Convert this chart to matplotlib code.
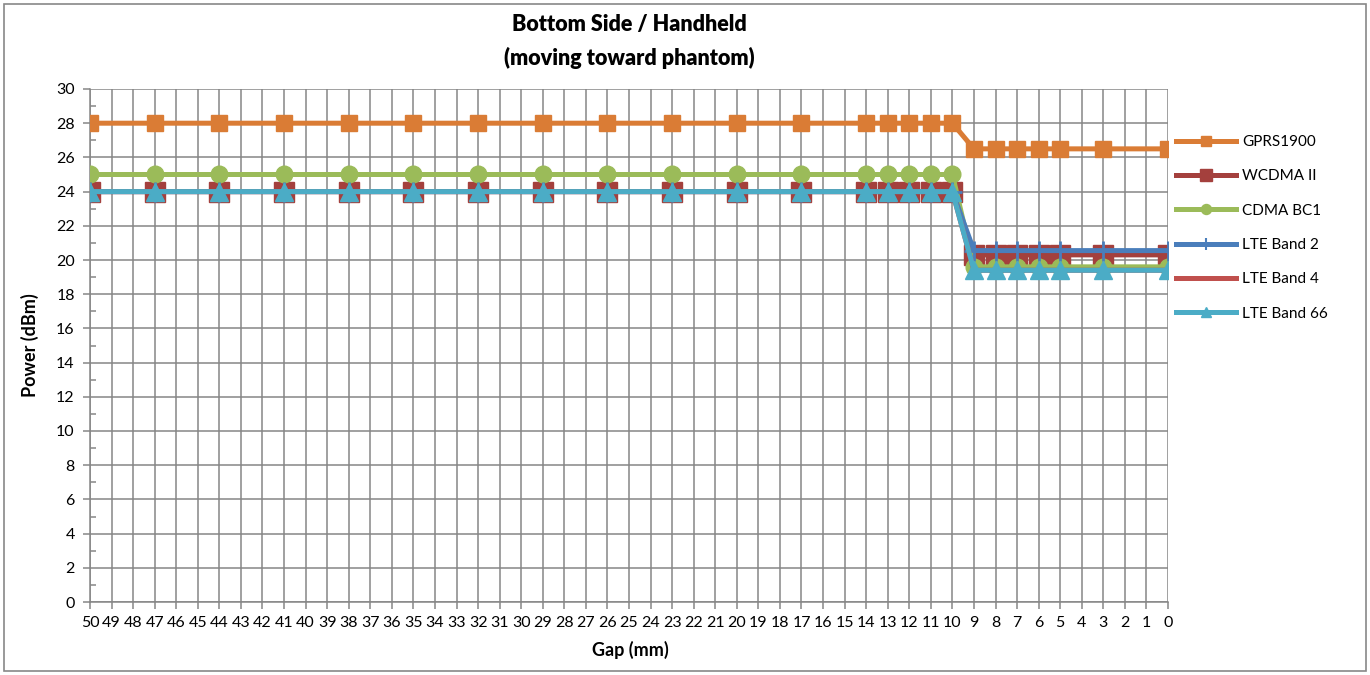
import matplotlib
matplotlib.use("Agg")
import matplotlib.pyplot as plt
from matplotlib.patches import Rectangle
from matplotlib.ticker import MultipleLocator
from matplotlib.lines import Line2D

plt.rcParams['font.family'] = ['Lato', 'DejaVu Sans']

# ---- data ----
categories = list(range(50, -1, -1))
gap = [50, 47, 44, 41, 38, 35, 32, 29, 26, 23, 20, 17, 14, 13, 12, 11, 10, 9, 8, 7, 6, 5, 3, 0]
gprs1900 = [28, 28, 28, 28, 28, 28, 28, 28, 28, 28, 28, 28, 28, 28, 28, 28, 28,
            26.5, 26.5, 26.5, 26.5, 26.5, 26.5, 26.5]
wcdma2 = [24, 24, 24, 24, 24, 24, 24, 24, 24, 24, 24, 24, 24, 24, 24, 24, 24,
          20.3, 20.3, 20.3, 20.3, 20.3, 20.3, 20.3]
cdma_bc1 = [25, 25, 25, 25, 25, 25, 25, 25, 25, 25, 25, 25, 25, 25, 25, 25, 25,
            19.6, 19.6, 19.6, 19.6, 19.6, 19.6, 19.6]
lte_b2 = [24, 24, 24, 24, 24, 24, 24, 24, 24, 24, 24, 24, 24, 24, 24, 24, 24,
          20.55, 20.55, 20.55, 20.55, 20.55, 20.55, 20.55]
lte_b4 = [24, 24, 24, 24, 24, 24, 24, 24, 24, 24, 24, 24, 24, 24, 24, 24, 24,
          19.4, 19.4, 19.4, 19.4, 19.4, 19.4, 19.4]
lte_b66 = [24, 24, 24, 24, 24, 24, 24, 24, 24, 24, 24, 24, 24, 24, 24, 24, 24,
           19.4, 19.4, 19.4, 19.4, 19.4, 19.4, 19.4]

series = [
    ("GPRS1900", gprs1900, "#DA7C35", "s", 12),
    ("WCDMA II", wcdma2, "#A4403D", "s", 14),
    ("CDMA BC1", cdma_bc1, "#9BBB59", "o", 12),
    ("LTE Band 2", lte_b2, "#4A7EBB", "+", 14),
    ("LTE Band 4", lte_b4, "#C0504D", "None", 0),
    ("LTE Band 66", lte_b66, "#4BACC6", "^", 13),
]

W, H = 1370, 675
fig = plt.figure(figsize=(W / 100, H / 100), dpi=100)
fig.patches.append(Rectangle((4 / W, 4 / H), 1 - 8 / W, 1 - 8 / H, transform=fig.transFigure,
                             fill=False, edgecolor="#888888", linewidth=1.2))

L, R, T, B = 90, 1168, 89, 602
ax = fig.add_axes([L / W, 1 - B / H, (R - L) / W, (B - T) / H])

gridc = "#868686"
for name, vals, col, mk, ms in series:
    ax.plot(gap, vals, color=col, linewidth=3.6, marker=mk, markersize=ms,
            markeredgecolor=col, markerfacecolor=col, markeredgewidth=2 if mk == "+" else 1,
            label=name, zorder=3, solid_joinstyle="round")

ax.set_xlim(50, 0)
ax.set_ylim(0, 30)
ax.set_xticks(categories)
ax.set_xticklabels([str(c) for c in categories])
ax.yaxis.set_major_locator(MultipleLocator(2))
ax.yaxis.set_minor_locator(MultipleLocator(1))
ax.grid(True, which="major", color=gridc, linewidth=1.1, zorder=0)
ax.set_axisbelow(True)
for s in ["top", "right"]:
    ax.spines[s].set_visible(False)
for s in ["left", "bottom"]:
    ax.spines[s].set_color(gridc)
    ax.spines[s].set_linewidth(1.1)
ax.tick_params(axis="both", which="major", direction="out", length=5, color=gridc,
               labelsize=11.5, width=1.1)
ax.tick_params(axis="y", which="minor", direction="in", length=4, color=gridc, width=1.1)
ax.tick_params(axis="x", pad=5)
ax.tick_params(axis="y", pad=6)

ax.set_xlabel("Gap (mm)", fontsize=13, fontweight="bold", va="center")
ax.set_ylabel("Power (dBm)", fontsize=13, fontweight="bold", va="center")
ax.xaxis.set_label_coords((630 - L) / (R - L), (B - 650) / (B - T))
ax.yaxis.set_label_coords((30 - L) / (R - L), 0.5)

fig.text((L + R) / 2 / W, 1 - 25 / H, "Bottom Side / Handheld", ha="center", va="center",
         fontsize=15.5, fontweight="heavy")
fig.text((L + R) / 2 / W, 1 - 58 / H, "(moving toward phantom)", ha="center", va="center",
         fontsize=15.5, fontweight="heavy")

leg_handles = []
for name, vals, col, mk, ms in series:
    leg_handles.append(Line2D([], [], color=col, linewidth=3.6, marker=mk,
                              markersize=ms * 0.6, markeredgecolor=col, markerfacecolor=col,
                              markeredgewidth=1.5 if mk == "+" else 1))
fig.legend(leg_handles, [s[0] for s in series], loc="upper left",
           bbox_to_anchor=(1170 / W, 1 - 129 / H), frameon=False, fontsize=11,
           handlelength=3.9, handletextpad=0.4, labelspacing=1.33, borderaxespad=0)

fig.savefig("out.png", dpi=100)
